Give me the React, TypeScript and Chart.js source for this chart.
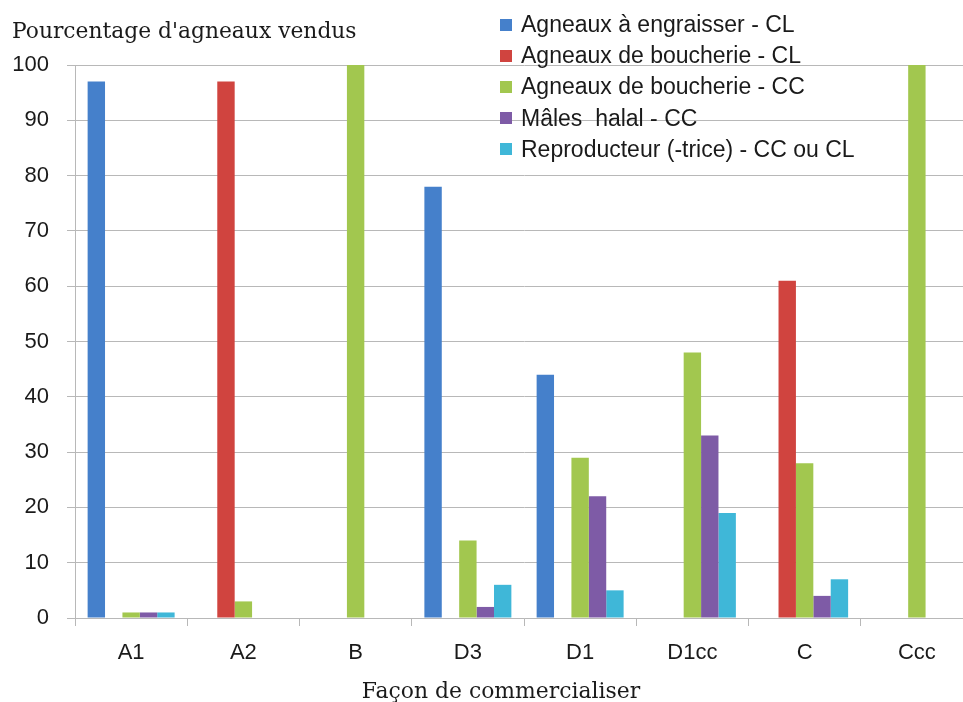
import React, { useEffect, useRef } from "react";
import { Chart, registerables } from "chart.js";

Chart.register(...registerables);

const categories = ["A1", "A2", "B", "D3", "D1", "D1cc", "C", "Ccc"];
const seriesNames = [
  "Agneaux à engraisser - CL",
  "Agneaux de boucherie - CL",
  "Agneaux de boucherie - CC",
  "Mâles  halal - CC",
  "Reproducteur (-trice) - CC ou CL",
];
const engraisserCL = [97, 0, 0, 78, 44, 0, 0, 0];
const boucherieCL = [0, 97, 0, 0, 0, 0, 61, 0];
const boucherieCC = [1, 3, 100, 14, 29, 48, 28, 100];
const malesHalalCC = [1, 0, 0, 2, 22, 33, 4, 0];
const reproducteur = [1, 0, 0, 6, 5, 19, 7, 0];
const seriesValues = [engraisserCL, boucherieCL, boucherieCC, malesHalalCC, reproducteur];
const seriesColors = ["#4580CB", "#D0443F", "#A2C74F", "#7E5BA6", "#3FB7D8"];
const yTicks = [0, 10, 20, 30, 40, 50, 60, 70, 80, 90, 100];
const yTitle = "Pourcentage d'agneaux vendus";
const xTitle = "Façon de commercialiser";

const SANS = "'Liberation Sans', Arial, sans-serif";
const SERIF = "'DejaVu Serif', serif";
const GRID = "#B8B8B8";

export default function App() {
  const ref = useRef<HTMLCanvasElement | null>(null);

  useEffect(() => {
    if (!ref.current) return;
    const chart = new Chart(ref.current, {
      type: "bar",
      data: {
        labels: categories,
        datasets: seriesValues.map((vals, i) => ({
          label: seriesNames[i],
          data: vals,
          backgroundColor: seriesColors[i],
          borderWidth: 0,
          categoryPercentage: 0.775,
          barPercentage: 1,
        })),
      },
      options: {
        responsive: false,
        animation: false,
        layout: { padding: { top: 65, right: 0, bottom: 0, left: 0 } },
        plugins: {
          legend: { display: false },
          tooltip: { enabled: false },
          title: { display: false },
        },
        scales: {
          x: {
            grid: {
              display: true,
              drawOnChartArea: false,
              drawTicks: true,
              tickLength: 8,
              color: GRID,
              offset: true,
            },
            border: { color: GRID, width: 1 },
            ticks: {
              color: "#1a1a1a",
              font: { family: SANS, size: 22 },
              padding: 14,
              maxRotation: 0,
            },
            afterFit: (s: any) => {
              s.height = 84;
            },
          },
          y: {
            min: 0,
            max: 100,
            afterBuildTicks: (s: any) => {
              s.ticks = yTicks.map((v) => ({ value: v }));
            },
            grid: { color: GRID, tickLength: 8, tickColor: GRID },
            border: { color: GRID, width: 1 },
            ticks: {
              color: "#1a1a1a",
              font: { family: SANS, size: 22 },
              padding: 18,
            },
            afterFit: (s: any) => {
              s.width = 75;
            },
          },
        },
      },
    });
    return () => chart.destroy();
  }, []);

  return (
    <div
      style={{
        position: "fixed",
        left: 0,
        top: 0,
        width: 963,
        height: 702,
        overflow: "hidden",
        background: "#fff",
      }}
    >
      <canvas ref={ref} width={973} height={702} style={{ display: "block" }} />
      <div
        style={{
          position: "absolute",
          left: 12,
          top: 30,
          transform: "translateY(-50%)",
          fontFamily: SERIF,
          fontSize: 21.8,
          color: "#1a1a1a",
          whiteSpace: "nowrap",
        }}
      >
        {yTitle}
      </div>
      <div
        style={{
          position: "absolute",
          left: 501,
          top: 690,
          transform: "translate(-50%, -50%)",
          fontFamily: SERIF,
          fontSize: 21.9,
          color: "#1a1a1a",
          whiteSpace: "nowrap",
        }}
      >
        {xTitle}
      </div>
      <div style={{ position: "absolute", left: 500, top: 9 }}>
        {seriesNames.map((n, i) => (
          <div
            key={n}
            style={{
              display: "flex",
              alignItems: "center",
              height: 31.2,
              fontFamily: SANS,
              fontSize: 23,
              color: "#1a1a1a",
              whiteSpace: "pre",
            }}
          >
            <span
              style={{
                display: "inline-block",
                width: 12,
                height: 12,
                background: seriesColors[i],
                marginRight: 9,
              }}
            />
            {n}
          </div>
        ))}
      </div>
    </div>
  );
}
